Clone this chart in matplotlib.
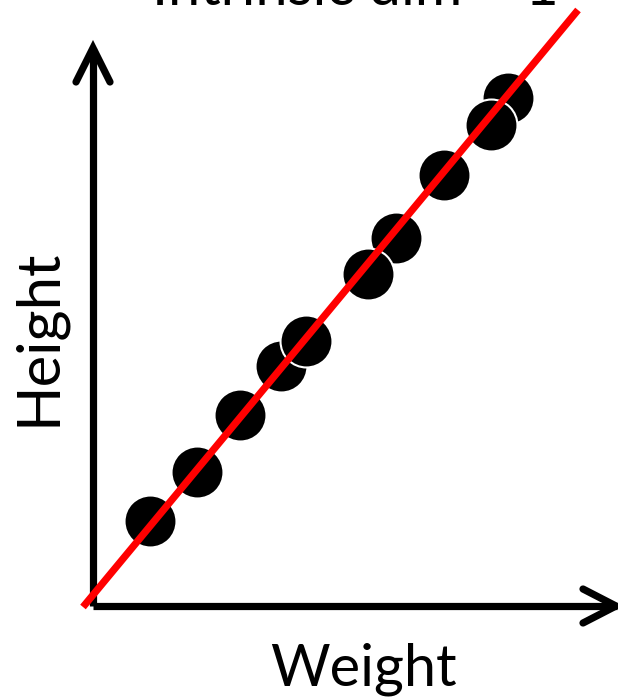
import matplotlib
matplotlib.use('Agg')
import matplotlib.pyplot as plt

# Data (pixel-like units, origin of drawn axes at (93, 92))
weight = [150, 197, 240, 281, 306, 396, 368, 444, 508, 491]
height = [177, 226, 283, 332, 357, 460, 424, 523, 600, 573]

fit_x = [83, 578]
fit_y = [91, 688]

plt.rcParams['font.family'] = ['Lato', 'DejaVu Sans']

fig = plt.figure(figsize=(6.18, 6.98), dpi=100)
ax = fig.add_axes([0, 0, 1, 1])
ax.set_xlim(0, 618)
ax.set_ylim(0, 698)
ax.axis('off')

# Axis arrows
lw = 5.2
ax.plot([93, 93], [92, 650], color='black', lw=lw, solid_capstyle='butt')
ax.plot([93, 617], [92, 92], color='black', lw=lw, solid_capstyle='butt')
ax.plot([76, 93, 110], [616, 650, 616], color='black', lw=lw,
        solid_capstyle='round', solid_joinstyle='miter')
ax.plot([583, 616, 583], [109, 92, 75], color='black', lw=lw,
        solid_capstyle='round', solid_joinstyle='miter')

# Points
ax.scatter(weight, height, s=1400, color='black', edgecolors='white',
           linewidths=1.5, zorder=3)

# Fitted line
ax.plot(fit_x, fit_y, color='#ff0000', lw=5.2, solid_capstyle='butt', zorder=4)

# Labels
ax.text(363, 13, 'Weight', fontsize=41.5, ha='center', va='baseline')
ax.text(55, 361, 'Height', fontsize=43, ha='center', va='baseline', rotation=90,
        rotation_mode='anchor')
ax.text(152, 693, 'Intrinsic dim = 1', fontsize=41.5, ha='left', va='baseline')

fig.savefig('out.png', dpi=100)
